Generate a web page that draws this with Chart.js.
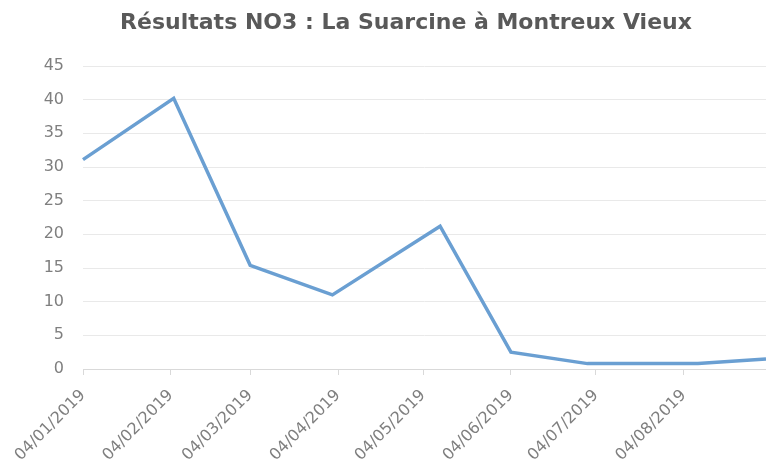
<!DOCTYPE html>
<html>
<head>
<meta charset="utf-8">
<script src="https://cdn.jsdelivr.net/npm/chart.js@4"></script>
<style>
html,body{margin:0;padding:0;background:#fff;}
#wrap{width:766px;height:470px;position:relative;}
</style>
</head>
<body>
<div id="wrap"><canvas id="c" width="766" height="470"></canvas></div>
<script>
// ---- data ----
const titleText = 'Résultats NO3 : La Suarcine à Montreux Vieux';
const sampleDates = ['2019-01-04','2019-02-05','2019-03-04','2019-04-02','2019-05-10','2019-06-04','2019-07-01','2019-08-09','2019-09-02'];
const no3Values   = [31.1, 40.2, 15.4, 11.0, 21.2, 2.5, 0.8, 0.8, 1.5];
const tickDates   = ['2019-01-04','2019-02-04','2019-03-04','2019-04-04','2019-05-04','2019-06-04','2019-07-04','2019-08-04'];
const tickLabels  = ['04/01/2019','04/02/2019','04/03/2019','04/04/2019','04/05/2019','04/06/2019','04/07/2019','04/08/2019'];
const yTicks      = [0,5,10,15,20,25,30,35,40,45];

// ---- helpers ----
const DAY = 86400000;
const origin = Date.UTC(2019,0,4);
function dayOf(s){ const p=s.split('-').map(Number); return (Date.UTC(p[0],p[1]-1,p[2]) - origin)/DAY; }
const points = sampleDates.map((d,i)=>({x:dayOf(d), y:no3Values[i]}));
const tickDays = tickDates.map(dayOf);

const titlePlugin = {
  id:'customTitle',
  afterDraw(chart){
    const ctx = chart.ctx;
    ctx.save();
    ctx.font = 'bold 22px "DejaVu Sans"';
    ctx.fillStyle = '#595959';
    ctx.textAlign = 'center';
    ctx.textBaseline = 'middle';
    ctx.fillText(titleText, 406, 23);
    ctx.restore();
  }
};

new Chart(document.getElementById('c'), {
  type:'line',
  data:{ datasets:[{
    data: points,
    borderColor:'#6a9fd2',
    borderWidth:3.5,
    pointRadius:0,
    tension:0,
    fill:false,
    clip:false
  }]},
  options:{
    responsive:false,
    animation:false,
    devicePixelRatio:1,
    layout:{ padding:{ top:66, right:0, bottom:0, left:0 } },
    plugins:{ legend:{display:false}, tooltip:{enabled:false}, title:{display:false} },
    scales:{
      x:{
        type:'linear',
        min: 0,
        max: dayOf(sampleDates[sampleDates.length-1]),
        afterBuildTicks(scale){ scale.ticks = tickDays.map(v=>({value:v})); },
        afterFit(scale){ scale.height = 101; },
        ticks:{
          autoSkip:false,
          maxRotation:45, minRotation:45,
          color:'#7f7f7f',
          font:{ family:'DejaVu Sans', size:16 },
          padding:11,
          callback(v){ const i = tickDays.indexOf(v); return i>=0 ? tickLabels[i] : ''; }
        },
        grid:{ drawOnChartArea:false, drawTicks:true, tickLength:6, color:'#d9d9d9' },
        border:{ display:true, color:'#d9d9d9', width:1 }
      },
      y:{
        min:0, max:45,
        afterBuildTicks(scale){ scale.ticks = yTicks.map(v=>({value:v})); },
        afterFit(scale){ scale.width = 83; },
        ticks:{
          color:'#7f7f7f',
          font:{ family:'DejaVu Sans', size:16 },
          padding:19
        },
        grid:{ color:'#e9e9e9', drawTicks:false, lineWidth:1 },
        border:{ display:false }
      }
    }
  },
  plugins:[titlePlugin]
});
</script>
</body>
</html>
